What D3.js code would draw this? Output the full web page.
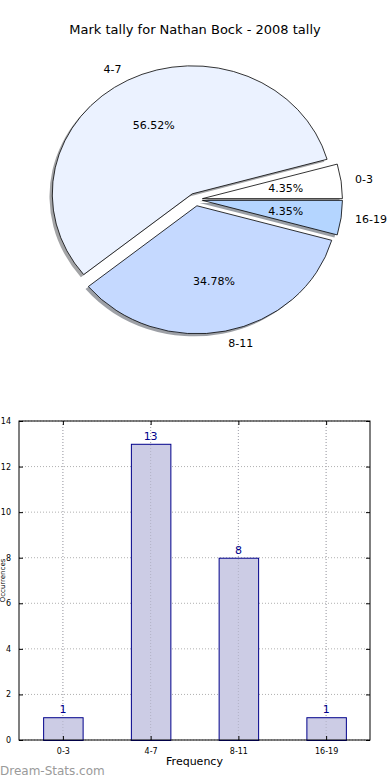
<!DOCTYPE html>
<html><head><meta charset="utf-8">
<script src="https://cdn.jsdelivr.net/npm/d3@7/dist/d3.min.js"></script>
<style>
body{margin:0;background:#fff;}
svg{display:block;font-family:"DejaVu Sans",sans-serif;}
</style></head>
<body>
<svg id="c" width="390" height="780"></svg>
<script>
const title = "Mark tally for Nathan Bock - 2008 tally";
const categories = ["0-3", "4-7", "8-11", "16-19"];
const counts = [1, 13, 8, 1];
const pieColors = ["#ffffff", "#ebf2ff", "#c5d9ff", "#b4d5ff"];
const yTicks = [0, 2, 4, 6, 8, 10, 12, 14];
const xLabel = "Frequency";
const yLabel = "Occurrences";
const watermark = "Dream-Stats.com";

const svg = d3.select("#c");

svg.append("text").attr("x", 195).attr("y", 34).attr("text-anchor", "middle")
  .attr("font-size", 13).attr("fill", "#000").text(title);

// ---------- Pie ----------
const cx = 195.5, cy = 199.5, rx = 140, ry = 128, explode = 0.05;
const sy = ry / rx;
const total = d3.sum(counts);
const pie = d3.pie().sort(null).startAngle(Math.PI / 2).endAngle(Math.PI / 2 - 2 * Math.PI);
const arcs = pie(counts);
const arc = d3.arc().innerRadius(0).outerRadius(rx);

function mid(d) { return (d.startAngle + d.endAngle) / 2; }
function off(d) {
  const m = mid(d);
  return [explode * rx * Math.sin(m), -explode * ry * Math.cos(m)];
}

const pieG = svg.append("g");
arcs.forEach((d, i) => {
  const [ox, oy] = off(d);
  const c = d3.rgb(pieColors[i]);
  pieG.append("path")
    .attr("d", arc(d))
    .attr("transform", `translate(${cx + ox - 0.02 * rx},${cy + oy + 0.02 * ry}) scale(1,${sy})`)
    .attr("fill", d3.rgb(c.r * 0.3, c.g * 0.3, c.b * 0.3))
    .attr("fill-opacity", 0.5)
    .attr("stroke", "none");
});
arcs.forEach((d, i) => {
  const [ox, oy] = off(d);
  pieG.append("path")
    .attr("d", arc(d))
    .attr("transform", `translate(${cx + ox},${cy + oy}) scale(1,${sy})`)
    .attr("fill", pieColors[i])
    .attr("stroke", "#000")
    .attr("stroke-width", 0.8)
    .attr("vector-effect", "non-scaling-stroke")
    .attr("stroke-linejoin", "round");
});
arcs.forEach((d, i) => {
  const [ox, oy] = off(d);
  const m = mid(d);
  const lx = cx + ox + 1.1 * rx * Math.sin(m);
  const ly = cy + oy - 1.1 * ry * Math.cos(m);
  svg.append("text").attr("x", lx).attr("y", ly).attr("dy", "0.35em")
    .attr("text-anchor", Math.sin(m) < 0 ? "end" : "start")
    .attr("font-size", 11).attr("fill", "#000").text(categories[i]);
  const px = cx + ox + 0.6 * rx * Math.sin(m);
  const py = cy + oy - 0.6 * ry * Math.cos(m);
  svg.append("text").attr("x", px).attr("y", py).attr("dy", "0.35em")
    .attr("text-anchor", "middle")
    .attr("font-size", 11).attr("fill", "#000")
    .text((counts[i] / total * 100).toFixed(2) + "%");
});

// ---------- Bar chart ----------
const L = 19, R = 370, T = 421, B = 740;
const x = d3.scaleLinear().domain([-0.5, categories.length - 0.5]).range([L, R]);
const y = d3.scaleLinear().domain([0, 14]).range([B, T]);
const bw = 0.45;
const g = svg.append("g");

g.selectAll(".gy").data(yTicks).join("line")
  .attr("x1", L).attr("x2", R).attr("y1", d => y(d)).attr("y2", d => y(d))
  .attr("stroke", "#b0b0b0").attr("stroke-width", 1).attr("stroke-dasharray", "1,2");
g.selectAll(".gx").data(categories).join("line")
  .attr("x1", (d, i) => x(i)).attr("x2", (d, i) => x(i)).attr("y1", T).attr("y2", B)
  .attr("stroke", "#b0b0b0").attr("stroke-width", 1).attr("stroke-dasharray", "1,2");

g.selectAll(".bar").data(counts).join("rect")
  .attr("x", (d, i) => x(i - bw / 2) + 0.5)
  .attr("width", x(bw) - x(0))
  .attr("y", d => y(d) + 0.5)
  .attr("height", d => y(0) - y(d))
  .attr("fill", "#ccccE5").attr("stroke", "#00008b").attr("stroke-width", 1);

g.selectAll(".gx2").data(categories).join("line")
  .attr("x1", (d, i) => x(i)).attr("x2", (d, i) => x(i)).attr("y1", T).attr("y2", B)
  .attr("stroke", "#a0a0b0").attr("stroke-opacity", 0.6).attr("stroke-width", 1).attr("stroke-dasharray", "1,2");

g.selectAll(".vl").data(counts).join("text")
  .attr("x", (d, i) => x(i)).attr("y", d => y(d) - 4)
  .attr("text-anchor", "middle").attr("font-size", 11).attr("fill", "#00008b")
  .text(d => d);

g.append("rect").attr("x", L).attr("y", T).attr("width", R - L).attr("height", B - T)
  .attr("fill", "none").attr("stroke", "#000").attr("stroke-width", 1);

const yAxisL = d3.axisLeft(y).tickValues(yTicks).tickSizeInner(-4).tickSizeOuter(0).tickPadding(8);
const ya = g.append("g").attr("transform", `translate(${L},0)`).call(yAxisL);
ya.select(".domain").remove();
ya.selectAll("text").attr("font-size", 8).attr("font-family", "DejaVu Sans, sans-serif").attr("fill", "#000");
const yAxisR = d3.axisRight(y).tickValues(yTicks).tickSizeInner(-4).tickSizeOuter(0).tickFormat("");
const yr = g.append("g").attr("transform", `translate(${R},0)`).call(yAxisR);
yr.select(".domain").remove();

const xAxis = d3.axisBottom(x).tickValues(d3.range(categories.length))
  .tickFormat(i => categories[i]).tickSizeInner(-4).tickSizeOuter(0).tickPadding(8);
const xa = g.append("g").attr("transform", `translate(0,${B})`).call(xAxis);
xa.select(".domain").remove();
xa.selectAll("text").attr("font-size", 8).attr("font-family", "DejaVu Sans, sans-serif").attr("fill", "#000");
const xAxisT = d3.axisTop(x).tickValues(d3.range(categories.length)).tickFormat("").tickSizeInner(-4).tickSizeOuter(0);
const xt = g.append("g").attr("transform", `translate(0,${T})`).call(xAxisT);
xt.select(".domain").remove();
g.selectAll(".tick line").attr("stroke", "#000");

svg.append("text").attr("x", (L + R) / 2).attr("y", 765).attr("text-anchor", "middle")
  .attr("font-size", 11).attr("fill", "#000").text(xLabel);
svg.append("text").attr("transform", `translate(5,${(T + B) / 2}) rotate(-90)`)
  .attr("text-anchor", "middle").attr("font-size", 7).attr("fill", "#000").text(yLabel);

svg.append("text").attr("x", 0).attr("y", 775).attr("font-size", 12)
  .attr("fill", "#9a9a9a").text(watermark);
</script>
</body></html>
